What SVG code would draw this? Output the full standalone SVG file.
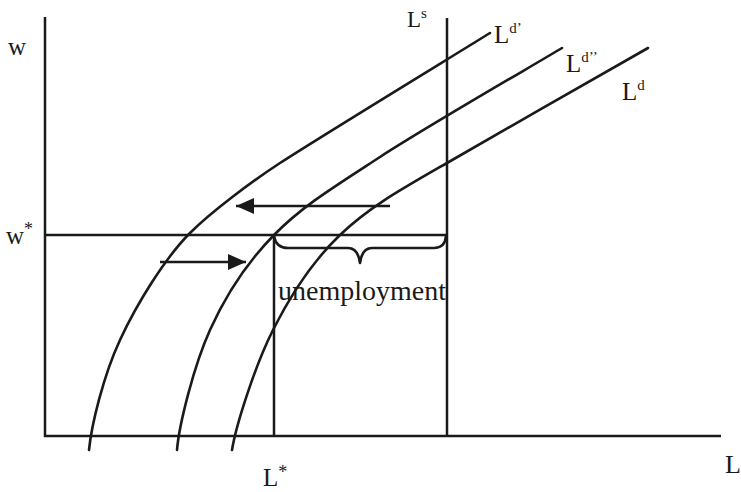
<svg xmlns="http://www.w3.org/2000/svg" width="741" height="492" viewBox="0 0 741 492">
<style>
.ln{fill:none;stroke:#1a1a1a;stroke-width:2.5;stroke-linecap:butt}
.cv{fill:none;stroke:#1a1a1a;stroke-width:2.6;stroke-linecap:round;stroke-linejoin:round}
.tx{font-family:"Liberation Serif","Times New Roman",serif;fill:#1a1a1a}
</style>
<defs>
<marker id="ah" markerUnits="userSpaceOnUse" markerWidth="20" markerHeight="18" refX="18" refY="9" orient="auto">
<path d="M0,1 L18,9 L0,17 z" fill="#1a1a1a"/>
</marker>
</defs>
<rect width="741" height="492" fill="#ffffff"/>
<g id="axes">
<path class="ln" d="M45,17 V436 H721"/>
</g>
<g id="supply">
<path class="ln" d="M447,18 V436"/>
<text class="tx" x="407" y="27" font-size="23">L<tspan font-size="15" dy="-9">s</tspan></text>
</g>
<g id="equilibrium">
<path class="ln" d="M45,235 H447"/>
<path class="ln" d="M274,235 V436"/>
</g>
<g id="demand-prime">
<path class="cv" d="M89,450 C91.5,425 103.2,376.2 120,340 C136.8,303.8 165,258 190,233 C211,212 251,182 280,163 C320,137 455,54.7 490,33"/>
<text class="tx" x="494" y="43" font-size="25">L<tspan font-size="15" dy="-10">d’</tspan></text>
</g>
<g id="demand-double-prime">
<path class="cv" d="M177,450 C179,425 193.8,365.8 210,330 C226.2,294.2 245.7,263.8 274,235 C302.3,206.2 332,188.2 380,157 C428,125.8 531.7,66.2 562,48"/>
<text class="tx" x="566" y="72" font-size="25">L<tspan font-size="15" dy="-10">d’’</tspan></text>
</g>
<g id="demand">
<path class="cv" d="M232,450 C236,425 255,365.8 273,330 C291,294.2 311,262.8 340,235 C369,207.2 400,190 447,163 C498.3,133 614.5,67.2 648,48"/>
<text class="tx" x="622" y="100" font-size="25">L<tspan font-size="15" dy="-10">d</tspan></text>
</g>
<g id="connectors">
<path class="ln" d="M390,206 H236" marker-end="url(#ah)"/>
<path class="ln" d="M160,262 H246" marker-end="url(#ah)"/>
</g>
<g id="unemployment">
<path class="cv" stroke-width="2.2" d="M274,236 Q276,248 288,248 L348,248 Q358,248 360,263 Q362,248 372,248 L434,248 Q445,248 446,236"/>
<text class="tx" x="278" y="300" font-size="28">unemployment</text>
</g>
<g id="labels">
<text class="tx" x="8" y="55" font-size="25">w</text>
<text class="tx" x="6" y="244" font-size="25">w<tspan font-size="18" dy="-9">*</tspan></text>
<text class="tx" x="263" y="486" font-size="25">L<tspan font-size="18" dy="-8">*</tspan></text>
<text class="tx" x="725" y="473" font-size="26">L</text>
</g>
</svg>
